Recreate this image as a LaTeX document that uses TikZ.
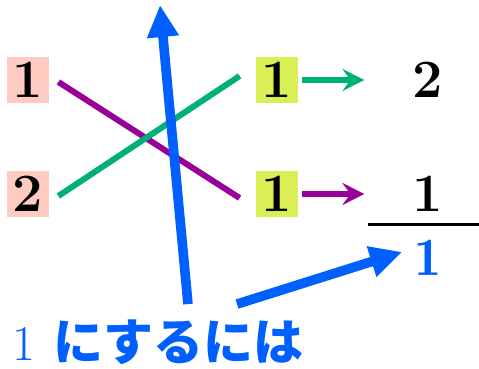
\documentclass[tikz,border=0pt]{standalone}
\usepackage{fontspec}
\usepackage{tikz}
\usetikzlibrary{arrows.meta,positioning,calc}
\newfontfamily\jpfont{Noto Sans CJK JP}
\newfontfamily\demifont{lmromandemi10-regular.otf}
\definecolor{pnk}{HTML}{FFCBC0}
\definecolor{ylw}{HTML}{D9EF55}
\definecolor{grn}{HTML}{00B07A}
\definecolor{prp}{HTML}{990099}
\definecolor{blu}{HTML}{0060FF}

\begin{document}
\begin{tikzpicture}[x=0.5pt,y=0.5pt,
  box/.style={inner sep=0pt,minimum width=21pt,minimum height=23pt,font=\fontsize{27}{30}\selectfont\bfseries},
  num/.style={inner sep=0pt,font=\fontsize{27}{30}\selectfont\bfseries},
  link/.style={line width=3pt},
  small/.style={link,-{Stealth[length=11pt,width=11pt,inset=4pt]}},
  big/.style={line width=4.8pt,-{Triangle[length=16pt,width=15pt]}}]
\useasboundingbox (0,0) rectangle (479,369);
\node[box,fill=pnk] (l1) at (28,289) {1};
\node[box,fill=pnk] (l2) at (28,175) {2};
\node[box,fill=ylw] (m1) at (277,289) {1};
\node[box,fill=ylw] (m2) at (277,175) {1};
\node[num] (r1) at (428,289) {2};
\node[num] (r2) at (428,175) {1};
\node[num,text=blu,font=\fontsize{27}{30}\demifont] (b1) at (428,111) {1};
\node[text=blu,inner sep=0pt,anchor=west] (txt) at (12,27)
  {\fontsize{25}{28}\selectfont 1\hspace{9pt}{\jpfont\bfseries にするには}};
\coordinate (top) at (160,364);
% crossing lines
\draw[link,prp] ([xshift=4.5pt,yshift=-1pt]l1.east) -- ([xshift=-8pt,yshift=-2pt]m2.west);
\draw[link,grn] ([xshift=4.5pt,yshift=-1pt]l2.east) -- ([xshift=-8pt,yshift=2pt]m1.west);
\draw[small,grn] ([xshift=2pt]m1.east) -- +(31pt,0);
\draw[small,prp] ([xshift=2pt]m2.east) -- +(31pt,0);
% fraction bar
\draw[line width=1.5pt] (368,144) -- (479,144);
% blue arrows
\draw[big,blu] ($(txt.north west)+(176,15)$) -- (top);
\draw[big,blu] ($(txt.north west)+(225,15)$) -- ([xshift=-6pt,yshift=3pt]b1.west);
\end{tikzpicture}
\end{document}
